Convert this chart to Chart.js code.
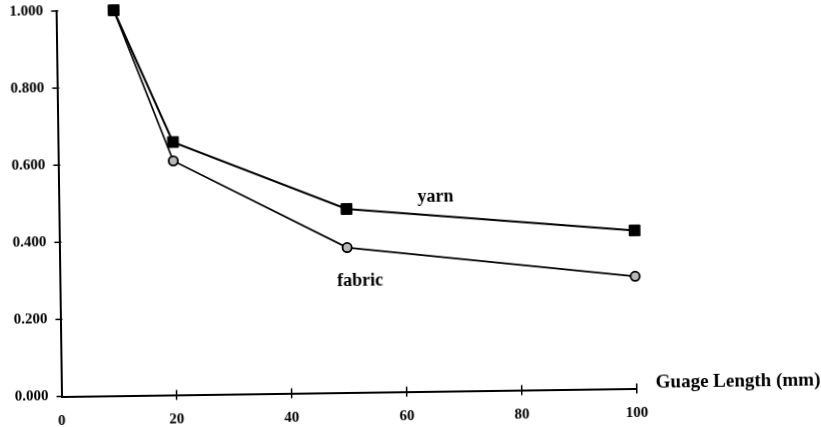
<!DOCTYPE html>
<html>
<head>
<meta charset="utf-8">
<script src="https://cdn.jsdelivr.net/npm/chart.js@4.4.1/dist/chart.umd.min.js"></script>
<style>
  html, body { margin: 0; padding: 0; background: #fff; }
  #wrap { width: 821px; height: 427px; position: relative; overflow: hidden; }
  /* the printed figure sits slightly askew on the page */
  #c { display: block; transform: rotate(-0.8deg); transform-origin: 61.5px 396.5px; }
</style>
</head>
<body>
<div id="wrap"><canvas id="c" width="821" height="427"></canvas></div>
<script>
// Gauge length (mm) and normalised strength ratio
const gaugeLengths = [10, 20, 50, 100];
const yarnRatio    = [1.000, 0.656, 0.476, 0.410];
const fabricRatio  = [1.000, 0.607, 0.376, 0.291];
const xTickValues  = [0, 20, 40, 60, 80, 100];
const yTickValues  = [0, 0.2, 0.4, 0.6, 0.8, 1.0];
const seriesNames  = ['yarn', 'fabric'];
const xAxisTitle   = 'Guage Length (mm)';

const serif = "'Liberation Serif', 'Times New Roman', serif";
const ink = '#000';

// crossing tick marks, series captions and the axis caption
const decorations = {
  id: 'decorations',
  afterDraw(chart) {
    const { ctx, chartArea: a, scales: { x, y } } = chart;
    ctx.save();
    ctx.strokeStyle = ink;
    ctx.lineWidth = 1.5;
    xTickValues.slice(1).forEach(v => {
      const px = x.getPixelForValue(v);
      ctx.beginPath();
      ctx.moveTo(px, a.bottom - 5);
      ctx.lineTo(px, a.bottom + 5);
      ctx.stroke();
    });
    yTickValues.forEach(v => {
      const py = y.getPixelForValue(v);
      ctx.beginPath();
      ctx.moveTo(a.left - 5, py);
      ctx.lineTo(a.left + 2, py);
      ctx.stroke();
    });

    ctx.fillStyle = ink;
    ctx.font = 'bold 18px ' + serif;
    ctx.textAlign = 'center';
    ctx.textBaseline = 'middle';
    ctx.fillText(seriesNames[0], x.getPixelForValue(65.5), y.getPixelForValue(0.503));
    ctx.fillText(seriesNames[1], x.getPixelForValue(52.2), y.getPixelForValue(0.289));

    ctx.font = 'bold 19px ' + serif;
    ctx.textAlign = 'left';
    ctx.fillText(xAxisTitle, a.right + 19, a.bottom - 5);
    ctx.restore();
  }
};

new Chart(document.getElementById('c'), {
  type: 'line',
  data: {
    datasets: [
      {
        label: seriesNames[0],
        data: gaugeLengths.map((g, i) => ({ x: g, y: yarnRatio[i] })),
        borderColor: ink,
        borderWidth: 2,
        pointStyle: 'rect',
        pointRadius: 7.6,
        pointBackgroundColor: ink,
        pointBorderColor: ink,
        pointBorderWidth: 1,
        tension: 0,
        clip: false
      },
      {
        label: seriesNames[1],
        data: gaugeLengths.map((g, i) => ({ x: g, y: fabricRatio[i] })),
        borderColor: ink,
        borderWidth: 1.7,
        pointStyle: 'circle',
        pointRadius: 4.6,
        pointBackgroundColor: '#b8b8b8',
        pointBorderColor: ink,
        pointBorderWidth: 1.8,
        tension: 0,
        clip: false
      }
    ]
  },
  options: {
    responsive: false,
    animation: false,
    devicePixelRatio: 1,
    layout: { autoPadding: false, padding: { left: 0, right: 184.2, top: 11, bottom: 0 } },
    plugins: {
      legend: { display: false },
      tooltip: { enabled: false }
    },
    scales: {
      x: {
        type: 'linear',
        min: 0,
        max: 100,
        afterBuildTicks: s => { s.ticks = xTickValues.map(v => ({ value: v })); },
        afterFit: s => { s.height = 30.5; s.paddingLeft = 0; s.paddingRight = 0; },
        grid: { display: false, drawTicks: false },
        border: { display: true, color: ink, width: 2 },
        ticks: {
          color: ink,
          font: { family: serif, size: 15, weight: 'bold' },
          padding: 16,
          maxRotation: 0,
          callback: v => String(v)
        }
      },
      y: {
        type: 'linear',
        min: 0,
        max: 1,
        afterBuildTicks: s => { s.ticks = yTickValues.map(v => ({ value: v })); },
        afterFit: s => { s.width = 61.5; s.paddingTop = 0; s.paddingBottom = 0; },
        grid: { display: false, drawTicks: false },
        border: { display: true, color: ink, width: 2 },
        ticks: {
          color: ink,
          font: { family: serif, size: 15, weight: 'bold' },
          padding: 13,
          callback: v => Number(v).toFixed(3)
        }
      }
    }
  },
  plugins: [decorations]
});
</script>
</body>
</html>
